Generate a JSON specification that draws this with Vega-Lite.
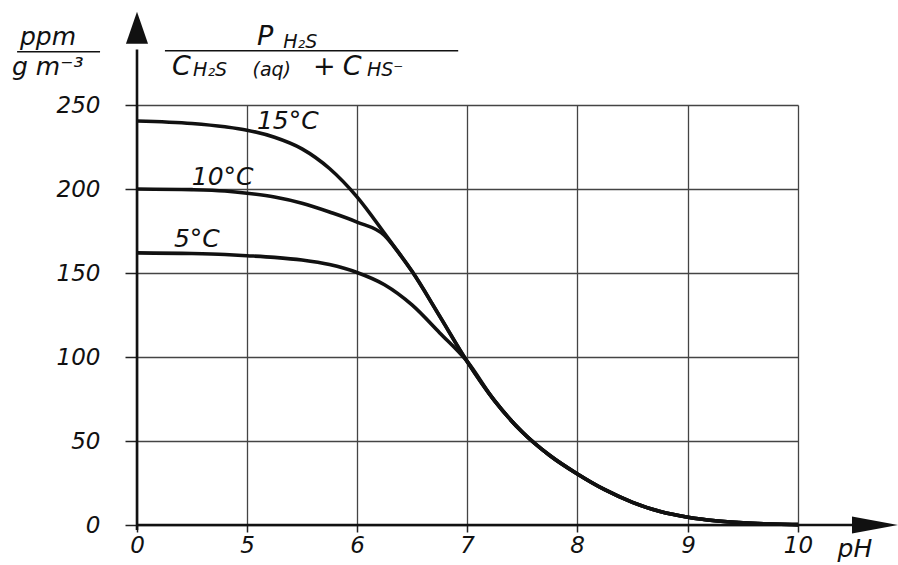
{
  "$schema": "https://vega.github.io/schema/vega-lite/v6.json",
  "width": 661,
  "height": 420,
  "autosize": "none",
  "padding": {"left": 137, "top": 105, "right": 100, "bottom": 40},
  "background": "white",
  "config": {"view": {"stroke": null}, "font": "DejaVu Sans"},
  "datasets": {
    "curves": [
      {"temp": "15", "pH": 0, "v": 240.5}, {"temp": "15", "pH": 2.5, "v": 239}, {"temp": "15", "pH": 4, "v": 237},
      {"temp": "15", "pH": 5, "v": 235}, {"temp": "15", "pH": 5.25, "v": 230.8}, {"temp": "15", "pH": 5.5, "v": 223.9},
      {"temp": "15", "pH": 5.75, "v": 212.2}, {"temp": "15", "pH": 6, "v": 195.3}, {"temp": "15", "pH": 6.25, "v": 173.6},
      {"temp": "15", "pH": 6.375, "v": 162.4}, {"temp": "15", "pH": 6.5, "v": 151}, {"temp": "15", "pH": 6.75, "v": 124.5},
      {"temp": "15", "pH": 7, "v": 97.5}, {"temp": "15", "pH": 7.25, "v": 74}, {"temp": "15", "pH": 7.5, "v": 55.5},
      {"temp": "15", "pH": 7.75, "v": 41.5}, {"temp": "15", "pH": 8, "v": 30.5}, {"temp": "15", "pH": 8.25, "v": 21},
      {"temp": "15", "pH": 8.5, "v": 13.5}, {"temp": "15", "pH": 8.75, "v": 8}, {"temp": "15", "pH": 9, "v": 4.6},
      {"temp": "15", "pH": 9.25, "v": 2.5}, {"temp": "15", "pH": 9.5, "v": 1.3}, {"temp": "15", "pH": 9.75, "v": 0.6},
      {"temp": "15", "pH": 10, "v": 0.2},
      {"temp": "10", "pH": 0, "v": 200}, {"temp": "10", "pH": 2.5, "v": 199.6}, {"temp": "10", "pH": 4, "v": 198.8},
      {"temp": "10", "pH": 5, "v": 197.5}, {"temp": "10", "pH": 5.25, "v": 195.2}, {"temp": "10", "pH": 5.5, "v": 191.5},
      {"temp": "10", "pH": 5.75, "v": 186.3}, {"temp": "10", "pH": 6, "v": 180.3}, {"temp": "10", "pH": 6.25, "v": 172.3},
      {"temp": "10", "pH": 6.375, "v": 162.4}, {"temp": "10", "pH": 6.5, "v": 151}, {"temp": "10", "pH": 6.75, "v": 124.5},
      {"temp": "10", "pH": 7, "v": 97.5}, {"temp": "10", "pH": 7.25, "v": 74}, {"temp": "10", "pH": 7.5, "v": 55.5},
      {"temp": "10", "pH": 7.75, "v": 41.5}, {"temp": "10", "pH": 8, "v": 30.5}, {"temp": "10", "pH": 8.25, "v": 21},
      {"temp": "10", "pH": 8.5, "v": 13.5}, {"temp": "10", "pH": 8.75, "v": 8}, {"temp": "10", "pH": 9, "v": 4.6},
      {"temp": "10", "pH": 9.25, "v": 2.5}, {"temp": "10", "pH": 9.5, "v": 1.3}, {"temp": "10", "pH": 9.75, "v": 0.6},
      {"temp": "10", "pH": 10, "v": 0.2},
      {"temp": "5", "pH": 0, "v": 162}, {"temp": "5", "pH": 2.5, "v": 161.6}, {"temp": "5", "pH": 4, "v": 161},
      {"temp": "5", "pH": 5, "v": 160.3}, {"temp": "5", "pH": 5.25, "v": 159.3}, {"temp": "5", "pH": 5.5, "v": 157.7},
      {"temp": "5", "pH": 5.75, "v": 155}, {"temp": "5", "pH": 6, "v": 150.3}, {"temp": "5", "pH": 6.25, "v": 143},
      {"temp": "5", "pH": 6.5, "v": 131}, {"temp": "5", "pH": 6.75, "v": 114.5}, {"temp": "5", "pH": 7, "v": 97.5},
      {"temp": "5", "pH": 7.25, "v": 74}, {"temp": "5", "pH": 7.5, "v": 55.5}, {"temp": "5", "pH": 7.75, "v": 41.5},
      {"temp": "5", "pH": 8, "v": 30.5}, {"temp": "5", "pH": 8.25, "v": 21}, {"temp": "5", "pH": 8.5, "v": 13.5},
      {"temp": "5", "pH": 8.75, "v": 8}, {"temp": "5", "pH": 9, "v": 4.6}, {"temp": "5", "pH": 9.25, "v": 2.5},
      {"temp": "5", "pH": 9.5, "v": 1.3}, {"temp": "5", "pH": 9.75, "v": 0.6}, {"temp": "5", "pH": 10, "v": 0.2}
    ],
    "labelText": [
      {"text": "15°C", "pH": 5.09, "v": 235.5},
      {"text": "10°C", "pH": 2.49, "v": 202.4},
      {"text": "5°C", "pH": 1.68, "v": 165.3},
      {"text": "ppm", "pH": -5.32, "v": 285.7},
      {"text": "g m⁻³", "pH": -5.68, "v": 267.9},
      {"text": "pH", "pH": 10.36, "v": -19}
    ],
    "formulaBig": [
      {"text": "P", "pH": 5.09, "v": 285.7},
      {"text": "C", "pH": 1.59, "v": 267.9},
      {"text": "+", "pH": 5.6, "v": 267.9},
      {"text": "C", "pH": 5.87, "v": 267.9}
    ],
    "formulaSub": [
      {"text": "H₂S", "pH": 5.33, "v": 283.9},
      {"text": "H₂S", "pH": 2.55, "v": 267.3},
      {"text": "(aq)", "pH": 5.05, "v": 267.3},
      {"text": "HS⁻", "pH": 6.09, "v": 267.3}
    ],
    "fracLines": [
      {"pH": 1.27, "pH2": 6.92, "v": 282.3},
      {"pH": -5.45, "pH2": -1.68, "v": 281.7}
    ]
  },
  "layer": [
    {
      "data": {"name": "curves"},
      "mark": {"type": "line", "interpolate": "monotone", "strokeWidth": 3.6, "color": "#111111"},
      "encoding": {
        "x": {
          "field": "pH", "type": "quantitative",
          "scale": {"domain": [0, 5, 6, 7, 8, 9, 10], "range": [0, 110, 220, 330, 440, 551, 661], "nice": false, "zero": false},
          "axis": {
            "values": [0, 5, 6, 7, 8, 9, 10], "format": "d", "title": null, "grid": true, "gridColor": "#444444", "gridWidth": 1.3, "gridOpacity": 1,
            "domain": false, "ticks": true, "tickSize": 7, "tickColor": "#222222", "tickWidth": 1.5,
            "labelFont": "DejaVu Sans", "labelFontStyle": "italic", "labelFontSize": 23, "labelColor": "#111111", "labelPadding": 2,
            "labelFlush": false, "labelOverlap": false
          }
        },
        "y": {
          "field": "v", "type": "quantitative",
          "scale": {"domain": [0, 250], "nice": false, "zero": false},
          "axis": {
            "values": [0, 50, 100, 150, 200, 250], "format": "d", "title": null, "grid": true, "gridColor": "#444444", "gridWidth": 1.3, "gridOpacity": 1,
            "domain": false, "ticks": true, "tickSize": 12, "tickColor": "#222222", "tickWidth": 1.5,
            "labelFont": "DejaVu Sans", "labelFontStyle": "italic", "labelFontSize": 23, "labelColor": "#111111", "labelPadding": 25,
            "labelFlush": false, "labelOverlap": false
          }
        },
        "detail": {"field": "temp", "type": "nominal"}
      }
    },
    {
      "data": {"values": [{}]},
      "mark": {"type": "rule", "strokeWidth": 2.6, "color": "#111111"},
      "encoding": {
        "x": {"datum": 0, "type": "quantitative", "title": null},
        "y": {"datum": -3, "type": "quantitative", "title": null},
        "y2": {"datum": 283}
      }
    },
    {
      "data": {"values": [{}]},
      "mark": {"type": "rule", "strokeWidth": 2.6, "color": "#111111"},
      "encoding": {
        "x": {"datum": 0, "type": "quantitative", "title": null},
        "x2": {"datum": 10.55},
        "y": {"datum": 0, "type": "quantitative", "title": null}
      }
    },
    {
      "data": {"values": [{}]},
      "mark": {"type": "point", "shape": "M0,-1L0.69,1L-0.69,1Z", "size": 1024, "filled": true, "color": "#111111", "opacity": 1},
      "encoding": {
        "x": {"datum": 0, "type": "quantitative", "title": null},
        "y": {"datum": 296, "type": "quantitative", "title": null}
      }
    },
    {
      "data": {"values": [{}]},
      "mark": {"type": "point", "shape": "M1,0L-1,-0.37L-1,0.37Z", "size": 2116, "filled": true, "color": "#111111", "opacity": 1},
      "encoding": {
        "x": {"datum": 10.7, "type": "quantitative", "title": null},
        "y": {"datum": 0, "type": "quantitative", "title": null}
      }
    },
    {
      "data": {"name": "fracLines"},
      "mark": {"type": "rule", "strokeWidth": 1.6, "color": "#111111"},
      "encoding": {
        "x": {"field": "pH", "type": "quantitative", "title": null},
        "x2": {"field": "pH2"},
        "y": {"field": "v", "type": "quantitative", "title": null}
      }
    },
    {
      "data": {"name": "labelText"},
      "mark": {"type": "text", "align": "left", "baseline": "alphabetic", "fontSize": 25, "fontStyle": "italic", "font": "DejaVu Sans", "color": "#111111"},
      "encoding": {
        "x": {"field": "pH", "type": "quantitative", "title": null},
        "y": {"field": "v", "type": "quantitative", "title": null},
        "text": {"field": "text"}
      }
    },
    {
      "data": {"name": "formulaBig"},
      "mark": {"type": "text", "align": "left", "baseline": "alphabetic", "fontSize": 27, "fontStyle": "italic", "font": "DejaVu Sans", "color": "#111111"},
      "encoding": {
        "x": {"field": "pH", "type": "quantitative", "title": null},
        "y": {"field": "v", "type": "quantitative", "title": null},
        "text": {"field": "text"}
      }
    },
    {
      "data": {"name": "formulaSub"},
      "mark": {"type": "text", "align": "left", "baseline": "alphabetic", "fontSize": 19, "fontStyle": "italic", "font": "DejaVu Sans", "color": "#111111"},
      "encoding": {
        "x": {"field": "pH", "type": "quantitative", "title": null},
        "y": {"field": "v", "type": "quantitative", "title": null},
        "text": {"field": "text"}
      }
    }
  ]
}
